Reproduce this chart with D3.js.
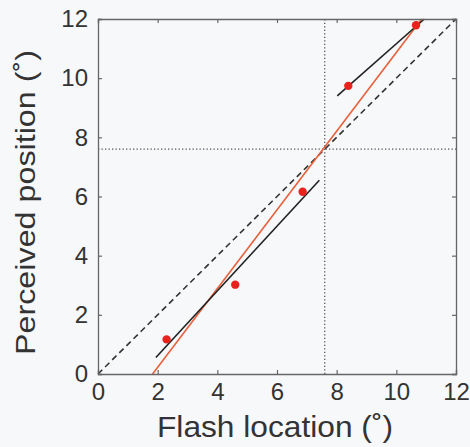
<!DOCTYPE html>
<html><head><meta charset="utf-8">
<script src="https://d3js.org/d3.v7.min.js"></script>
<style>body{margin:0;background:#f7f8fa;} svg{display:block;font-family:"Liberation Sans",Arial,sans-serif;}</style>
</head><body>
<script>
const flashX = [2.3, 4.6, 6.86, 8.39, 10.66];
const perceivedY = [1.17, 3.02, 6.16, 9.74, 11.79];
const blackFit1 = [[1.94, 0.56], [7.42, 6.55]];
const blackFit2 = [[8.02, 9.4], [10.94, 12.0]];
const redFit = [[1.83, 0], [10.85, 12.0]];
const identity = [[0, 0], [12, 12]];
const crossVal = 7.6;
const ticks = [0, 2, 4, 6, 8, 10, 12];

const W = 470, H = 447;
const m = {l: 98, t: 19, r: 14, b: 73};
const svg = d3.select("body").append("svg").attr("width", W).attr("height", H);
svg.append("rect").attr("width", W).attr("height", H).attr("fill", "#f7f8fa");
const x = d3.scaleLinear().domain([0, 12]).range([m.l, W - m.r]);
const y = d3.scaleLinear().domain([0, 12]).range([H - m.b, m.t]);

const g = svg.append("g");
const line = d3.line().x(d => x(d[0])).y(d => y(d[1]));

// dotted cross lines
g.append("line").attr("x1", x(crossVal)).attr("x2", x(crossVal)).attr("y1", y(0)).attr("y2", y(12))
  .attr("stroke", "#555").attr("stroke-width", 1.3).attr("stroke-dasharray", "1.3,2.2");
g.append("line").attr("x1", x(0)).attr("x2", x(12)).attr("y1", y(crossVal)).attr("y2", y(crossVal))
  .attr("stroke", "#555").attr("stroke-width", 1.3).attr("stroke-dasharray", "1.3,2.2");

// identity dashed
g.append("path").attr("d", line(identity)).attr("fill", "none").attr("stroke", "#333")
  .attr("stroke-width", 1.6).attr("stroke-dasharray", "6,4");

// red fit
g.append("path").attr("d", line(redFit)).attr("fill", "none").attr("stroke", "#e8603c").attr("stroke-width", 1.6);
// black fits
[blackFit1, blackFit2].forEach(f => g.append("path").attr("d", line(f)).attr("fill", "none")
  .attr("stroke", "#222").attr("stroke-width", 1.6));

// points
g.selectAll("circle").data(flashX).join("circle")
  .attr("cx", d => x(d)).attr("cy", (d, i) => y(perceivedY[i])).attr("r", 4.2).attr("fill", "#e8231e");

// axes with inward ticks
const tl = 4;
const axB = svg.append("g").attr("transform", `translate(0,${y(0)})`)
  .call(d3.axisBottom(x).tickValues(ticks).tickSize(-tl).tickPadding(9));
const axL = svg.append("g").attr("transform", `translate(${x(0)},0)`)
  .call(d3.axisLeft(y).tickValues(ticks).tickSize(-tl).tickPadding(10));
const axT = svg.append("g").attr("transform", `translate(0,${y(12)})`)
  .call(d3.axisTop(x).tickValues(ticks).tickSize(-tl).tickFormat(""));
const axR = svg.append("g").attr("transform", `translate(${x(12)},0)`)
  .call(d3.axisRight(y).tickValues(ticks).tickSize(-tl).tickFormat(""));
[axB, axL, axT, axR].forEach(a => {
  a.select(".domain").attr("stroke", "#666").attr("stroke-width", 1.3);
  a.selectAll(".tick line").attr("stroke", "#666").attr("stroke-width", 1.2);
  a.selectAll("text").attr("font-size", 24).attr("fill", "#333").attr("font-family", '"Liberation Sans",Arial,sans-serif');
});
axB.selectAll(".tick text").attr("dy", "0.71em");

svg.append("text").attr("x", 275).attr("y", 437).attr("text-anchor", "middle")
  .attr("font-size", 30).attr("fill", "#333")
  .attr("textLength", 236).attr("lengthAdjust", "spacingAndGlyphs").text("Flash location (˚)");
svg.append("text").attr("transform", `translate(35,202.5) rotate(-90)`).attr("text-anchor", "middle")
  .attr("font-size", 28).attr("fill", "#333")
  .attr("textLength", 305).attr("lengthAdjust", "spacingAndGlyphs").text("Perceived position (˚)");
</script>
</body></html>
